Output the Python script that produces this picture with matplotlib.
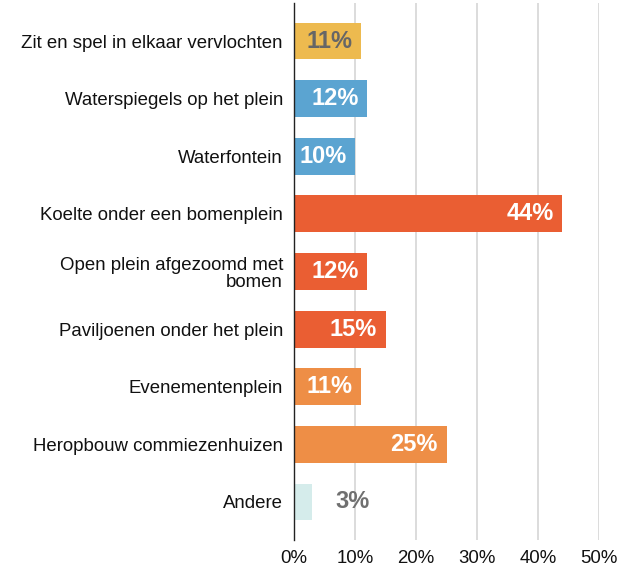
import matplotlib
matplotlib.use("Agg")
import matplotlib.pyplot as plt
from matplotlib.ticker import FuncFormatter

plt.rcParams['font.family'] = ['Liberation Sans', 'DejaVu Sans']

categories = [
    "Zit en spel in elkaar vervlochten",
    "Waterspiegels op het plein",
    "Waterfontein",
    "Koelte onder een bomenplein",
    "Open plein afgezoomd met\nbomen",
    "Paviljoenen onder het plein",
    "Evenementenplein",
    "Heropbouw commiezenhuizen",
    "Andere",
]
values = [11, 12, 10, 44, 12, 15, 11, 25, 3]
colors = ["#EDBA4F", "#5BA4D1", "#5BA4D1", "#EA5E33", "#EA5E33", "#EA5E33",
          "#EE8E46", "#EE8E46", "#D5ECEB"]
label_colors = ["#666666", "white", "white", "white", "white", "white",
                "white", "white", "#707070"]
xticks = [0, 10, 20, 30, 40, 50]

fig = plt.figure(figsize=(6.25, 5.7), dpi=100)
ax = fig.add_axes([294/625, 1 - 540/570, (599-294)/625, (540-3)/570])

y = list(range(len(categories)))
ax.barh(y, values, height=0.64, color=colors, zorder=3)

for yi, v, lc in zip(y, values, label_colors):
    if v >= 8:
        ax.text(v - 1.4, yi, f"{v}%", ha="right", va="center", color=lc,
                fontsize=17, fontweight="bold", zorder=4)
    else:
        ax.text(v + 3.8, yi, f"{v}%", ha="left", va="center", color=lc,
                fontsize=17, fontweight="bold", zorder=4)

ax.set_yticks(y)
ax.set_yticklabels(categories, fontsize=13.4, color="#111111", linespacing=1.05)
ax.set_ylim(8.66, -0.66)
ax.set_xlim(0, 50)
ax.set_xticks(xticks)
ax.xaxis.set_major_formatter(FuncFormatter(lambda v, p: f"{int(v)}%"))
ax.tick_params(axis="x", length=0, labelsize=13.4, pad=7, colors="#111111")
ax.tick_params(axis="y", length=0, pad=8)
ax.grid(axis="x", color="#D9D9D9", linewidth=1.3, zorder=0)
for s in ["top", "right", "bottom"]:
    ax.spines[s].set_visible(False)
ax.spines["left"].set_color("#222222")
ax.spines["left"].set_linewidth(1.0)
ax.spines["left"].set_zorder(5)

fig.savefig("out.png", dpi=100)
